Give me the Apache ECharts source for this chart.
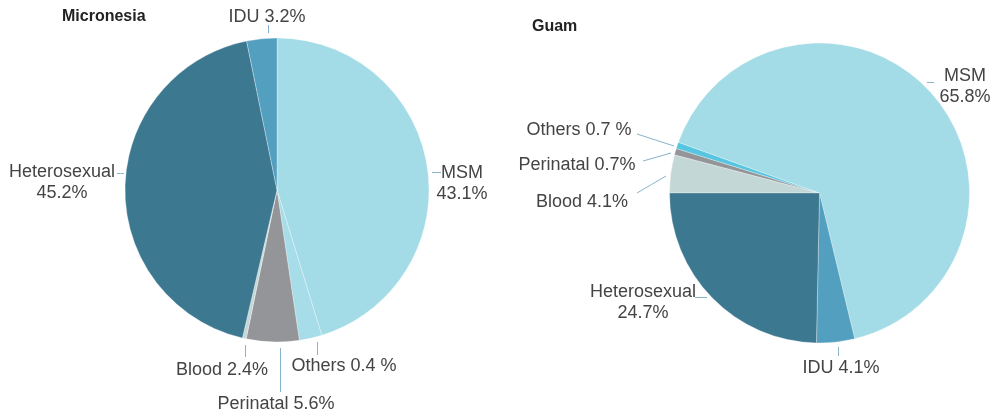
<!DOCTYPE html>
<html>
<head>
<meta charset="utf-8">
<script src="https://cdn.jsdelivr.net/npm/echarts@6/dist/echarts.min.js"></script>
<style>
  html, body { margin: 0; padding: 0; background: #fff; }
  #main { width: 997px; height: 416px; }
</style>
</head>
<body>
<div id="main"></div>
<script>
// Micronesia: slice sizes as drawn in the figure, and the text printed beside them
const micronesiaNames = ['MSM', 'Others', 'Perinatal', 'Blood', 'Heterosexual', 'IDU'];
const micronesiaShares = [45.2, 2.4, 5.6, 0.4, 43.1, 3.2];
const micronesiaLabels = ['MSM\n43.1%', 'Others 0.4 %', 'Perinatal 5.6%', 'Blood 2.4%', 'Heterosexual\n45.2%', 'IDU 3.2%'];

// Guam
const guamNames = ['Blood', 'Perinatal', 'Others', 'MSM', 'IDU', 'Heterosexual'];
const guamShares = [4.1, 0.7, 0.7, 65.8, 4.1, 24.7];
const guamLabels = ['Blood 4.1%', 'Perinatal 0.7%', 'Others 0.7 %', 'MSM\n65.8%', 'IDU 4.1%', 'Heterosexual\n24.7%'];

const colorOf = {
  MSM: '#a3dbe6',
  IDU: '#529fbf',
  Heterosexual: '#3d7891',
  Perinatal: '#939598',
  Blood: '#c3d8d6',
};

// where each label sits and its little leader dash
const micronesiaPos = [[462, 184], [344, 366], [276, 404], [222, 370], [62, 183], [267, 17]];
const micronesiaDash = [
  [[432, 172.5], [441, 172.5]], [[317.5, 342], [317.5, 355]], [[280.5, 348], [280.5, 392]],
  [[245.5, 345], [245.5, 357]], [[117, 173.5], [124, 173.5]], [[268.5, 25], [268.5, 33]],
];
const guamPos = [[582, 202], [577, 165], [579, 130], [965, 87], [841, 368], [643, 303]];
const guamDash = [
  [[637, 193], [666, 176]], [[643, 161], [671, 153]], [[637, 134], [674, 146]],
  [[927, 82.5], [934, 82.5]], [[838.5, 347], [838.5, 356]], [[695, 297.5], [707, 297.5]],
];

function pie(names, shares, labels, pos, dash, center, radius, startAngle, othersColor) {
  return {
    type: 'pie',
    center: center,
    radius: radius,
    startAngle: startAngle,
    clockwise: true,
    silent: true,
    avoidLabelOverlap: false,
    data: names.map((n, i) => ({
      name: n,
      value: shares[i],
      itemStyle: { color: n === 'Others' ? othersColor : colorOf[n] },
    })),
    itemStyle: { borderColor: 'rgba(255,255,255,0.6)', borderWidth: 0.5 },
    label: {
      show: true,
      formatter: p => labels[p.dataIndex],
      fontFamily: 'Liberation Sans',
      fontSize: 18,
      lineHeight: 21,
      color: '#444444',
      align: 'center',
      overflow: 'none',
    },
    labelLine: { show: true, lineStyle: { color: '#86b4cc', width: 1 } },
    labelLayout: p => {
      const d = dash[p.dataIndex];
      const mid = [(d[0][0] + d[1][0]) / 2, (d[0][1] + d[1][1]) / 2];
      return {
        x: pos[p.dataIndex][0],
        y: pos[p.dataIndex][1],
        align: 'center',
        verticalAlign: 'middle',
        labelLinePoints: [d[0], mid, d[1]],
      };
    },
  };
}

const chart = echarts.init(document.getElementById('main'));
chart.setOption({
  animation: false,
  backgroundColor: '#ffffff',
  title: [
    {
      text: 'Micronesia', left: 57, top: 4,
      textStyle: { fontFamily: 'Liberation Sans', fontSize: 16, fontWeight: 'bold', color: '#222' },
    },
    {
      text: 'Guam', left: 527, top: 14,
      textStyle: { fontFamily: 'Liberation Sans', fontSize: 16, fontWeight: 'bold', color: '#222' },
    },
  ],
  series: [
    pie(micronesiaNames, micronesiaShares, micronesiaLabels, micronesiaPos, micronesiaDash,
      [277, 190], 152, 90, '#a6dde8'),
    pie(guamNames, guamShares, guamLabels, guamPos, guamDash,
      [819.5, 193], 150, 180, '#56c6e0'),
  ],
});
</script>
</body>
</html>
